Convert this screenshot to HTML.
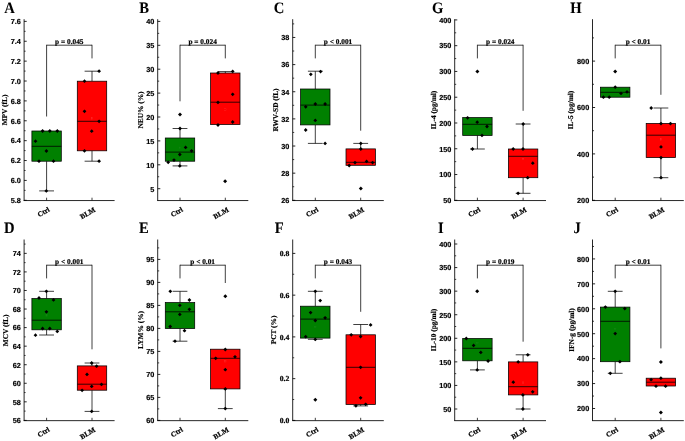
<!DOCTYPE html>
<html><head><meta charset="utf-8"><title>Figure</title>
<style>
html,body{margin:0;padding:0;background:#fff;}
body{width:685px;height:441px;overflow:hidden;}
svg{display:block;will-change:transform;}
text{fill:#000;stroke:#000;stroke-width:0.22px;text-rendering:geometricPrecision;}
.lt{font-family:"Liberation Serif",serif;font-weight:bold;font-size:15.9px;stroke-width:0.08px;}
.tk{font-family:"Liberation Sans",sans-serif;font-weight:bold;font-size:7.3px;stroke-width:0.18px;}
.tks{font-family:"Liberation Serif",serif;font-weight:bold;font-size:7.7px;}
.yl{font-family:"Liberation Serif",serif;font-weight:bold;font-size:7.4px;stroke-width:0.18px;}
.xl{font-family:"Liberation Serif",serif;font-weight:bold;font-size:7.2px;}
.pv{font-family:"Liberation Serif",serif;font-weight:bold;font-size:7.2px;stroke-width:0.2px;}
</style></head><body>
<svg width="685" height="441" viewBox="0 0 685 441">
<rect x="0" y="0" width="685" height="441" fill="#fff"/>
<line x1="24.10" y1="19.20" x2="24.10" y2="200.75" stroke="#000" stroke-width="0.85"/>
<line x1="23.65" y1="200.55" x2="114.60" y2="200.55" stroke="#000" stroke-width="0.85"/>
<line x1="24.10" y1="200.30" x2="26.70" y2="200.30" stroke="#000" stroke-width="0.85"/>
<text class="tk" text-anchor="end" transform="translate(20.80 203.10)">5.8</text>
<line x1="24.10" y1="180.42" x2="26.70" y2="180.42" stroke="#000" stroke-width="0.85"/>
<text class="tk" text-anchor="end" transform="translate(20.80 183.22)">6.0</text>
<line x1="24.10" y1="160.54" x2="26.70" y2="160.54" stroke="#000" stroke-width="0.85"/>
<text class="tk" text-anchor="end" transform="translate(20.80 163.34)">6.2</text>
<line x1="24.10" y1="140.66" x2="26.70" y2="140.66" stroke="#000" stroke-width="0.85"/>
<text class="tk" text-anchor="end" transform="translate(20.80 143.46)">6.4</text>
<line x1="24.10" y1="120.78" x2="26.70" y2="120.78" stroke="#000" stroke-width="0.85"/>
<text class="tk" text-anchor="end" transform="translate(20.80 123.58)">6.6</text>
<line x1="24.10" y1="100.90" x2="26.70" y2="100.90" stroke="#000" stroke-width="0.85"/>
<text class="tk" text-anchor="end" transform="translate(20.80 103.70)">6.8</text>
<line x1="24.10" y1="81.02" x2="26.70" y2="81.02" stroke="#000" stroke-width="0.85"/>
<text class="tk" text-anchor="end" transform="translate(20.80 83.82)">7.0</text>
<line x1="24.10" y1="61.14" x2="26.70" y2="61.14" stroke="#000" stroke-width="0.85"/>
<text class="tk" text-anchor="end" transform="translate(20.80 63.94)">7.2</text>
<line x1="24.10" y1="41.26" x2="26.70" y2="41.26" stroke="#000" stroke-width="0.85"/>
<text class="tk" text-anchor="end" transform="translate(20.80 44.06)">7.4</text>
<line x1="24.10" y1="21.38" x2="26.70" y2="21.38" stroke="#000" stroke-width="0.85"/>
<text class="tk" text-anchor="end" transform="translate(20.80 24.18)">7.6</text>
<line x1="24.10" y1="190.36" x2="25.60" y2="190.36" stroke="#000" stroke-width="0.75"/>
<line x1="24.10" y1="170.48" x2="25.60" y2="170.48" stroke="#000" stroke-width="0.75"/>
<line x1="24.10" y1="150.60" x2="25.60" y2="150.60" stroke="#000" stroke-width="0.75"/>
<line x1="24.10" y1="130.72" x2="25.60" y2="130.72" stroke="#000" stroke-width="0.75"/>
<line x1="24.10" y1="110.84" x2="25.60" y2="110.84" stroke="#000" stroke-width="0.75"/>
<line x1="24.10" y1="90.96" x2="25.60" y2="90.96" stroke="#000" stroke-width="0.75"/>
<line x1="24.10" y1="71.08" x2="25.60" y2="71.08" stroke="#000" stroke-width="0.75"/>
<line x1="24.10" y1="51.20" x2="25.60" y2="51.20" stroke="#000" stroke-width="0.75"/>
<line x1="24.10" y1="31.32" x2="25.60" y2="31.32" stroke="#000" stroke-width="0.75"/>
<line x1="46.60" y1="200.30" x2="46.60" y2="197.70" stroke="#000" stroke-width="0.75"/>
<line x1="92.00" y1="200.30" x2="92.00" y2="197.70" stroke="#000" stroke-width="0.75"/>
<text class="xl" text-anchor="end" transform="translate(50.20 210.90) rotate(-30)">Ctrl</text>
<text class="xl" text-anchor="end" transform="translate(96.00 211.10) rotate(-30)">BLM</text>
<text class="lt" text-anchor="start" transform="translate(4.20 12.80) scale(0.92 1)">A</text>
<text class="yl" text-anchor="middle" transform="translate(6.70 110.00) rotate(-90) scale(0.995 1)">MPV (fL)</text>
<line x1="46.60" y1="45.20" x2="92.00" y2="45.20" stroke="#000" stroke-width="0.75"/>
<line x1="46.60" y1="44.80" x2="46.60" y2="116.50" stroke="#000" stroke-width="0.75"/>
<line x1="92.00" y1="44.80" x2="92.00" y2="58.40" stroke="#000" stroke-width="0.75"/>
<text class="pv" text-anchor="middle" transform="translate(69.30 43.60) scale(1.02 1)">p = 0.045</text>
<line x1="46.60" y1="161.20" x2="46.60" y2="190.90" stroke="#000" stroke-width="0.75"/>
<line x1="39.20" y1="190.90" x2="54.00" y2="190.90" stroke="#000" stroke-width="0.75"/>
<rect x="31.90" y="131.00" width="29.40" height="30.20" fill="#008000" stroke="#000" stroke-width="0.75"/>
<line x1="31.90" y1="146.30" x2="61.30" y2="146.30" stroke="#000" stroke-width="0.8"/>
<path d="M40.70 131.00L42.60 129.10L44.50 131.00L42.60 132.90Z" fill="#000"/>
<path d="M47.90 131.00L49.80 129.10L51.70 131.00L49.80 132.90Z" fill="#000"/>
<path d="M55.40 131.00L57.30 129.10L59.20 131.00L57.30 132.90Z" fill="#000"/>
<path d="M33.60 141.20L35.50 139.30L37.40 141.20L35.50 143.10Z" fill="#000"/>
<path d="M44.50 151.00L46.40 149.10L48.30 151.00L46.40 152.90Z" fill="#000"/>
<path d="M37.10 161.20L39.00 159.30L40.90 161.20L39.00 163.10Z" fill="#000"/>
<path d="M51.60 161.20L53.50 159.30L55.40 161.20L53.50 163.10Z" fill="#000"/>
<path d="M44.40 190.90L46.30 189.00L48.20 190.90L46.30 192.80Z" fill="#000"/>
<line x1="92.00" y1="71.20" x2="92.00" y2="81.20" stroke="#000" stroke-width="0.75"/>
<line x1="84.60" y1="71.20" x2="99.40" y2="71.20" stroke="#000" stroke-width="0.75"/>
<line x1="92.00" y1="150.80" x2="92.00" y2="161.20" stroke="#000" stroke-width="0.75"/>
<line x1="84.60" y1="161.20" x2="99.40" y2="161.20" stroke="#000" stroke-width="0.75"/>
<rect x="77.30" y="81.20" width="29.40" height="69.60" fill="#ff0000" stroke="#000" stroke-width="0.75"/>
<line x1="77.30" y1="121.30" x2="106.70" y2="121.30" stroke="#000" stroke-width="0.8"/>
<rect x="91.30" y="117.70" width="1.4" height="1.4" fill="none" stroke="#ff2c2c" stroke-width="0.4"/>
<path d="M97.20 71.20L99.10 69.30L101.00 71.20L99.10 73.10Z" fill="#000"/>
<path d="M82.60 81.20L84.50 79.30L86.40 81.20L84.50 83.10Z" fill="#000"/>
<path d="M82.60 111.30L84.50 109.40L86.40 111.30L84.50 113.20Z" fill="#000"/>
<path d="M97.20 121.30L99.10 119.40L101.00 121.30L99.10 123.20Z" fill="#000"/>
<path d="M89.80 131.20L91.70 129.30L93.60 131.20L91.70 133.10Z" fill="#000"/>
<path d="M82.60 150.80L84.50 148.90L86.40 150.80L84.50 152.70Z" fill="#000"/>
<path d="M97.20 161.20L99.10 159.30L101.00 161.20L99.10 163.10Z" fill="#000"/>
<line x1="157.70" y1="19.20" x2="157.70" y2="200.75" stroke="#000" stroke-width="0.85"/>
<line x1="157.25" y1="200.55" x2="248.30" y2="200.55" stroke="#000" stroke-width="0.85"/>
<line x1="157.70" y1="188.70" x2="160.30" y2="188.70" stroke="#000" stroke-width="0.85"/>
<text class="tk" text-anchor="end" transform="translate(154.40 191.50)">5</text>
<line x1="157.70" y1="164.80" x2="160.30" y2="164.80" stroke="#000" stroke-width="0.85"/>
<text class="tk" text-anchor="end" transform="translate(154.40 167.60)">10</text>
<line x1="157.70" y1="140.90" x2="160.30" y2="140.90" stroke="#000" stroke-width="0.85"/>
<text class="tk" text-anchor="end" transform="translate(154.40 143.70)">15</text>
<line x1="157.70" y1="117.00" x2="160.30" y2="117.00" stroke="#000" stroke-width="0.85"/>
<text class="tk" text-anchor="end" transform="translate(154.40 119.80)">20</text>
<line x1="157.70" y1="93.10" x2="160.30" y2="93.10" stroke="#000" stroke-width="0.85"/>
<text class="tk" text-anchor="end" transform="translate(154.40 95.90)">25</text>
<line x1="157.70" y1="69.20" x2="160.30" y2="69.20" stroke="#000" stroke-width="0.85"/>
<text class="tk" text-anchor="end" transform="translate(154.40 72.00)">30</text>
<line x1="157.70" y1="45.30" x2="160.30" y2="45.30" stroke="#000" stroke-width="0.85"/>
<text class="tk" text-anchor="end" transform="translate(154.40 48.10)">35</text>
<line x1="157.70" y1="21.40" x2="160.30" y2="21.40" stroke="#000" stroke-width="0.85"/>
<text class="tk" text-anchor="end" transform="translate(154.40 24.20)">40</text>
<line x1="157.70" y1="176.75" x2="159.20" y2="176.75" stroke="#000" stroke-width="0.75"/>
<line x1="157.70" y1="152.85" x2="159.20" y2="152.85" stroke="#000" stroke-width="0.75"/>
<line x1="157.70" y1="128.95" x2="159.20" y2="128.95" stroke="#000" stroke-width="0.75"/>
<line x1="157.70" y1="105.05" x2="159.20" y2="105.05" stroke="#000" stroke-width="0.75"/>
<line x1="157.70" y1="81.15" x2="159.20" y2="81.15" stroke="#000" stroke-width="0.75"/>
<line x1="157.70" y1="57.25" x2="159.20" y2="57.25" stroke="#000" stroke-width="0.75"/>
<line x1="157.70" y1="33.35" x2="159.20" y2="33.35" stroke="#000" stroke-width="0.75"/>
<line x1="180.00" y1="200.30" x2="180.00" y2="197.70" stroke="#000" stroke-width="0.75"/>
<line x1="225.30" y1="200.30" x2="225.30" y2="197.70" stroke="#000" stroke-width="0.75"/>
<text class="xl" text-anchor="end" transform="translate(183.60 210.90) rotate(-30)">Ctrl</text>
<text class="xl" text-anchor="end" transform="translate(229.30 211.10) rotate(-30)">BLM</text>
<text class="lt" text-anchor="start" transform="translate(139.30 12.80) scale(0.92 1)">B</text>
<text class="yl" text-anchor="middle" transform="translate(142.50 110.00) rotate(-90) scale(0.995 1)">NEU% (%)</text>
<line x1="180.00" y1="45.20" x2="225.30" y2="45.20" stroke="#000" stroke-width="0.75"/>
<line x1="180.00" y1="44.80" x2="180.00" y2="101.30" stroke="#000" stroke-width="0.75"/>
<line x1="225.30" y1="44.80" x2="225.30" y2="58.40" stroke="#000" stroke-width="0.75"/>
<text class="pv" text-anchor="middle" transform="translate(202.65 43.60) scale(1.02 1)">p = 0.024</text>
<line x1="180.00" y1="128.50" x2="180.00" y2="138.00" stroke="#000" stroke-width="0.75"/>
<line x1="172.60" y1="128.50" x2="187.40" y2="128.50" stroke="#000" stroke-width="0.75"/>
<line x1="180.00" y1="161.20" x2="180.00" y2="165.90" stroke="#000" stroke-width="0.75"/>
<line x1="172.60" y1="165.90" x2="187.40" y2="165.90" stroke="#000" stroke-width="0.75"/>
<rect x="165.30" y="138.00" width="29.40" height="23.20" fill="#008000" stroke="#000" stroke-width="0.75"/>
<line x1="165.30" y1="152.10" x2="194.70" y2="152.10" stroke="#000" stroke-width="0.8"/>
<rect x="179.30" y="147.10" width="1.4" height="1.4" fill="none" stroke="#178617" stroke-width="0.4"/>
<path d="M166.30 162.30L168.20 160.40L170.10 162.30L168.20 164.20Z" fill="#000"/>
<path d="M172.10 160.10L174.00 158.20L175.90 160.10L174.00 162.00Z" fill="#000"/>
<path d="M177.90 154.50L179.80 152.60L181.70 154.50L179.80 156.40Z" fill="#000"/>
<path d="M183.70 147.40L185.60 145.50L187.50 147.40L185.60 149.30Z" fill="#000"/>
<path d="M189.70 150.80L191.60 148.90L193.50 150.80L191.60 152.70Z" fill="#000"/>
<path d="M177.90 165.90L179.80 164.00L181.70 165.90L179.80 167.80Z" fill="#000"/>
<path d="M178.10 128.50L180.00 126.60L181.90 128.50L180.00 130.40Z" fill="#000"/>
<path d="M178.00 114.40L180.00 112.40L182.00 114.40L180.00 116.40Z" fill="#000"/>
<line x1="225.30" y1="71.60" x2="225.30" y2="73.00" stroke="#000" stroke-width="0.75"/>
<line x1="217.90" y1="71.60" x2="232.70" y2="71.60" stroke="#000" stroke-width="0.75"/>
<rect x="210.60" y="73.00" width="29.40" height="51.50" fill="#ff0000" stroke="#000" stroke-width="0.75"/>
<line x1="210.60" y1="102.20" x2="240.00" y2="102.20" stroke="#000" stroke-width="0.8"/>
<rect x="224.60" y="108.80" width="1.4" height="1.4" fill="none" stroke="#ff2c2c" stroke-width="0.4"/>
<path d="M216.10 73.00L218.00 71.10L219.90 73.00L218.00 74.90Z" fill="#000"/>
<path d="M230.80 71.40L232.70 69.50L234.60 71.40L232.70 73.30Z" fill="#000"/>
<path d="M230.80 94.30L232.70 92.40L234.60 94.30L232.70 96.20Z" fill="#000"/>
<path d="M216.10 102.40L218.00 100.50L219.90 102.40L218.00 104.30Z" fill="#000"/>
<path d="M230.80 122.00L232.70 120.10L234.60 122.00L232.70 123.90Z" fill="#000"/>
<path d="M216.10 125.00L218.00 123.10L219.90 125.00L218.00 126.90Z" fill="#000"/>
<path d="M223.10 181.30L225.10 179.30L227.10 181.30L225.10 183.30Z" fill="#000"/>
<line x1="292.70" y1="19.20" x2="292.70" y2="200.75" stroke="#000" stroke-width="0.85"/>
<line x1="292.25" y1="200.55" x2="383.80" y2="200.55" stroke="#000" stroke-width="0.85"/>
<line x1="292.70" y1="200.30" x2="295.30" y2="200.30" stroke="#000" stroke-width="0.85"/>
<text class="tk" text-anchor="end" transform="translate(289.40 203.10)">26</text>
<line x1="292.70" y1="173.16" x2="295.30" y2="173.16" stroke="#000" stroke-width="0.85"/>
<text class="tk" text-anchor="end" transform="translate(289.40 175.96)">28</text>
<line x1="292.70" y1="146.02" x2="295.30" y2="146.02" stroke="#000" stroke-width="0.85"/>
<text class="tk" text-anchor="end" transform="translate(289.40 148.82)">30</text>
<line x1="292.70" y1="118.88" x2="295.30" y2="118.88" stroke="#000" stroke-width="0.85"/>
<text class="tk" text-anchor="end" transform="translate(289.40 121.68)">32</text>
<line x1="292.70" y1="91.74" x2="295.30" y2="91.74" stroke="#000" stroke-width="0.85"/>
<text class="tk" text-anchor="end" transform="translate(289.40 94.54)">34</text>
<line x1="292.70" y1="64.60" x2="295.30" y2="64.60" stroke="#000" stroke-width="0.85"/>
<text class="tk" text-anchor="end" transform="translate(289.40 67.40)">36</text>
<line x1="292.70" y1="37.46" x2="295.30" y2="37.46" stroke="#000" stroke-width="0.85"/>
<text class="tk" text-anchor="end" transform="translate(289.40 40.26)">38</text>
<line x1="292.70" y1="186.73" x2="294.20" y2="186.73" stroke="#000" stroke-width="0.75"/>
<line x1="292.70" y1="159.59" x2="294.20" y2="159.59" stroke="#000" stroke-width="0.75"/>
<line x1="292.70" y1="132.45" x2="294.20" y2="132.45" stroke="#000" stroke-width="0.75"/>
<line x1="292.70" y1="105.31" x2="294.20" y2="105.31" stroke="#000" stroke-width="0.75"/>
<line x1="292.70" y1="78.17" x2="294.20" y2="78.17" stroke="#000" stroke-width="0.75"/>
<line x1="292.70" y1="51.03" x2="294.20" y2="51.03" stroke="#000" stroke-width="0.75"/>
<line x1="292.70" y1="23.89" x2="294.20" y2="23.89" stroke="#000" stroke-width="0.75"/>
<line x1="315.30" y1="200.30" x2="315.30" y2="197.70" stroke="#000" stroke-width="0.75"/>
<line x1="360.70" y1="200.30" x2="360.70" y2="197.70" stroke="#000" stroke-width="0.75"/>
<text class="xl" text-anchor="end" transform="translate(318.90 210.90) rotate(-30)">Ctrl</text>
<text class="xl" text-anchor="end" transform="translate(364.70 211.10) rotate(-30)">BLM</text>
<text class="lt" text-anchor="start" transform="translate(273.80 12.80) scale(0.92 1)">C</text>
<text class="yl" text-anchor="middle" transform="translate(278.00 110.00) rotate(-90) scale(0.995 1)">RWV-SD (fL)</text>
<line x1="315.30" y1="45.20" x2="360.70" y2="45.20" stroke="#000" stroke-width="0.75"/>
<line x1="315.30" y1="44.80" x2="315.30" y2="58.40" stroke="#000" stroke-width="0.75"/>
<line x1="360.70" y1="44.80" x2="360.70" y2="130.70" stroke="#000" stroke-width="0.75"/>
<text class="pv" text-anchor="middle" transform="translate(338.00 43.60) scale(1.02 1)">p &lt; 0.001</text>
<line x1="315.30" y1="71.20" x2="315.30" y2="89.00" stroke="#000" stroke-width="0.75"/>
<line x1="307.90" y1="71.20" x2="322.70" y2="71.20" stroke="#000" stroke-width="0.75"/>
<line x1="315.30" y1="124.90" x2="315.30" y2="143.40" stroke="#000" stroke-width="0.75"/>
<line x1="307.90" y1="143.40" x2="322.70" y2="143.40" stroke="#000" stroke-width="0.75"/>
<rect x="300.60" y="89.00" width="29.40" height="35.90" fill="#008000" stroke="#000" stroke-width="0.75"/>
<line x1="300.60" y1="105.10" x2="330.00" y2="105.10" stroke="#000" stroke-width="0.8"/>
<path d="M308.90 74.30L310.80 72.40L312.70 74.30L310.80 76.20Z" fill="#000"/>
<path d="M318.70 71.60L320.60 69.70L322.50 71.60L320.60 73.50Z" fill="#000"/>
<path d="M303.80 106.80L305.70 104.90L307.60 106.80L305.70 108.70Z" fill="#000"/>
<path d="M313.40 104.00L315.30 102.10L317.20 104.00L315.30 105.90Z" fill="#000"/>
<path d="M323.20 104.00L325.10 102.10L327.00 104.00L325.10 105.90Z" fill="#000"/>
<path d="M313.40 120.40L315.30 118.50L317.20 120.40L315.30 122.30Z" fill="#000"/>
<path d="M303.80 130.00L305.70 128.10L307.60 130.00L305.70 131.90Z" fill="#000"/>
<path d="M323.20 143.40L325.10 141.50L327.00 143.40L325.10 145.30Z" fill="#000"/>
<line x1="360.70" y1="143.40" x2="360.70" y2="148.90" stroke="#000" stroke-width="0.75"/>
<line x1="353.30" y1="143.40" x2="368.10" y2="143.40" stroke="#000" stroke-width="0.75"/>
<rect x="346.00" y="148.90" width="29.40" height="16.40" fill="#ff0000" stroke="#000" stroke-width="0.75"/>
<line x1="346.00" y1="162.30" x2="375.40" y2="162.30" stroke="#000" stroke-width="0.8"/>
<path d="M358.90 143.40L360.80 141.50L362.70 143.40L360.80 145.30Z" fill="#000"/>
<path d="M358.90 149.00L360.80 147.10L362.70 149.00L360.80 150.90Z" fill="#000"/>
<path d="M347.30 165.50L349.20 163.60L351.10 165.50L349.20 167.40Z" fill="#000"/>
<path d="M353.10 162.60L355.00 160.70L356.90 162.60L355.00 164.50Z" fill="#000"/>
<path d="M364.70 161.40L366.60 159.50L368.50 161.40L366.60 163.30Z" fill="#000"/>
<path d="M370.70 162.60L372.60 160.70L374.50 162.60L372.60 164.50Z" fill="#000"/>
<path d="M358.80 188.40L360.80 186.40L362.80 188.40L360.80 190.40Z" fill="#000"/>
<line x1="454.70" y1="19.20" x2="454.70" y2="200.75" stroke="#000" stroke-width="0.85"/>
<line x1="454.25" y1="200.55" x2="546.00" y2="200.55" stroke="#000" stroke-width="0.85"/>
<line x1="454.70" y1="200.30" x2="457.30" y2="200.30" stroke="#000" stroke-width="0.85"/>
<text class="tk" text-anchor="end" transform="translate(451.40 203.10)">50</text>
<line x1="454.70" y1="174.53" x2="457.30" y2="174.53" stroke="#000" stroke-width="0.85"/>
<text class="tk" text-anchor="end" transform="translate(451.40 177.33)">100</text>
<line x1="454.70" y1="148.76" x2="457.30" y2="148.76" stroke="#000" stroke-width="0.85"/>
<text class="tk" text-anchor="end" transform="translate(451.40 151.56)">150</text>
<line x1="454.70" y1="122.99" x2="457.30" y2="122.99" stroke="#000" stroke-width="0.85"/>
<text class="tk" text-anchor="end" transform="translate(451.40 125.79)">200</text>
<line x1="454.70" y1="97.22" x2="457.30" y2="97.22" stroke="#000" stroke-width="0.85"/>
<text class="tk" text-anchor="end" transform="translate(451.40 100.02)">250</text>
<line x1="454.70" y1="71.45" x2="457.30" y2="71.45" stroke="#000" stroke-width="0.85"/>
<text class="tk" text-anchor="end" transform="translate(451.40 74.25)">300</text>
<line x1="454.70" y1="45.68" x2="457.30" y2="45.68" stroke="#000" stroke-width="0.85"/>
<text class="tk" text-anchor="end" transform="translate(451.40 48.48)">350</text>
<line x1="454.70" y1="19.91" x2="457.30" y2="19.91" stroke="#000" stroke-width="0.85"/>
<text class="tk" text-anchor="end" transform="translate(451.40 22.71)">400</text>
<line x1="454.70" y1="187.42" x2="456.20" y2="187.42" stroke="#000" stroke-width="0.75"/>
<line x1="454.70" y1="161.65" x2="456.20" y2="161.65" stroke="#000" stroke-width="0.75"/>
<line x1="454.70" y1="135.88" x2="456.20" y2="135.88" stroke="#000" stroke-width="0.75"/>
<line x1="454.70" y1="110.11" x2="456.20" y2="110.11" stroke="#000" stroke-width="0.75"/>
<line x1="454.70" y1="84.34" x2="456.20" y2="84.34" stroke="#000" stroke-width="0.75"/>
<line x1="454.70" y1="58.57" x2="456.20" y2="58.57" stroke="#000" stroke-width="0.75"/>
<line x1="454.70" y1="32.80" x2="456.20" y2="32.80" stroke="#000" stroke-width="0.75"/>
<line x1="477.40" y1="200.30" x2="477.40" y2="197.70" stroke="#000" stroke-width="0.75"/>
<line x1="523.10" y1="200.30" x2="523.10" y2="197.70" stroke="#000" stroke-width="0.75"/>
<text class="xl" text-anchor="end" transform="translate(481.00 210.90) rotate(-30)">Ctrl</text>
<text class="xl" text-anchor="end" transform="translate(527.10 211.10) rotate(-30)">BLM</text>
<text class="lt" text-anchor="start" transform="translate(432.00 12.80) scale(0.92 1)">G</text>
<text class="yl" text-anchor="middle" transform="translate(435.70 110.00) rotate(-90) scale(0.995 1)">IL-4 (pg/ml)</text>
<line x1="477.40" y1="45.20" x2="523.10" y2="45.20" stroke="#000" stroke-width="0.75"/>
<line x1="477.40" y1="44.80" x2="477.40" y2="58.40" stroke="#000" stroke-width="0.75"/>
<line x1="523.10" y1="44.80" x2="523.10" y2="110.80" stroke="#000" stroke-width="0.75"/>
<text class="pv" text-anchor="middle" transform="translate(500.25 43.60) scale(1.02 1)">p = 0.024</text>
<line x1="477.40" y1="135.40" x2="477.40" y2="149.00" stroke="#000" stroke-width="0.75"/>
<line x1="470.00" y1="149.00" x2="484.80" y2="149.00" stroke="#000" stroke-width="0.75"/>
<rect x="462.70" y="117.60" width="29.40" height="17.80" fill="#008000" stroke="#000" stroke-width="0.75"/>
<line x1="462.70" y1="124.30" x2="492.10" y2="124.30" stroke="#000" stroke-width="0.8"/>
<path d="M465.70 117.80L467.60 115.90L469.50 117.80L467.60 119.70Z" fill="#000"/>
<path d="M475.30 122.20L477.20 120.30L479.10 122.20L477.20 124.10Z" fill="#000"/>
<path d="M485.10 126.50L487.00 124.60L488.90 126.50L487.00 128.40Z" fill="#000"/>
<path d="M480.10 135.40L482.00 133.50L483.90 135.40L482.00 137.30Z" fill="#000"/>
<path d="M470.60 149.00L472.50 147.10L474.40 149.00L472.50 150.90Z" fill="#000"/>
<path d="M475.40 71.50L477.40 69.50L479.40 71.50L477.40 73.50Z" fill="#000"/>
<line x1="523.10" y1="124.00" x2="523.10" y2="149.00" stroke="#000" stroke-width="0.75"/>
<line x1="515.70" y1="124.00" x2="530.50" y2="124.00" stroke="#000" stroke-width="0.75"/>
<line x1="523.10" y1="177.70" x2="523.10" y2="193.30" stroke="#000" stroke-width="0.75"/>
<line x1="515.70" y1="193.30" x2="530.50" y2="193.30" stroke="#000" stroke-width="0.75"/>
<rect x="508.40" y="149.00" width="29.40" height="28.70" fill="#ff0000" stroke="#000" stroke-width="0.75"/>
<line x1="508.40" y1="156.30" x2="537.80" y2="156.30" stroke="#000" stroke-width="0.8"/>
<rect x="522.40" y="158.30" width="1.4" height="1.4" fill="none" stroke="#ff2c2c" stroke-width="0.4"/>
<path d="M521.30 124.00L523.20 122.10L525.10 124.00L523.20 125.90Z" fill="#000"/>
<path d="M511.30 149.00L513.20 147.10L515.10 149.00L513.20 150.90Z" fill="#000"/>
<path d="M521.10 149.00L523.00 147.10L524.90 149.00L523.00 150.90Z" fill="#000"/>
<path d="M530.90 163.20L532.80 161.30L534.70 163.20L532.80 165.10Z" fill="#000"/>
<path d="M525.80 177.70L527.70 175.80L529.60 177.70L527.70 179.60Z" fill="#000"/>
<path d="M516.20 193.30L518.10 191.40L520.00 193.30L518.10 195.20Z" fill="#000"/>
<line x1="592.50" y1="19.20" x2="592.50" y2="200.75" stroke="#000" stroke-width="0.85"/>
<line x1="592.05" y1="200.55" x2="683.80" y2="200.55" stroke="#000" stroke-width="0.85"/>
<line x1="592.50" y1="200.30" x2="595.10" y2="200.30" stroke="#000" stroke-width="0.85"/>
<text class="tk" text-anchor="end" transform="translate(589.20 203.10)">200</text>
<line x1="592.50" y1="153.90" x2="595.10" y2="153.90" stroke="#000" stroke-width="0.85"/>
<text class="tk" text-anchor="end" transform="translate(589.20 156.70)">400</text>
<line x1="592.50" y1="107.50" x2="595.10" y2="107.50" stroke="#000" stroke-width="0.85"/>
<text class="tk" text-anchor="end" transform="translate(589.20 110.30)">600</text>
<line x1="592.50" y1="61.10" x2="595.10" y2="61.10" stroke="#000" stroke-width="0.85"/>
<text class="tk" text-anchor="end" transform="translate(589.20 63.90)">800</text>
<line x1="592.50" y1="177.10" x2="594.00" y2="177.10" stroke="#000" stroke-width="0.75"/>
<line x1="592.50" y1="130.70" x2="594.00" y2="130.70" stroke="#000" stroke-width="0.75"/>
<line x1="592.50" y1="84.30" x2="594.00" y2="84.30" stroke="#000" stroke-width="0.75"/>
<line x1="592.50" y1="37.90" x2="594.00" y2="37.90" stroke="#000" stroke-width="0.75"/>
<line x1="615.20" y1="200.30" x2="615.20" y2="197.70" stroke="#000" stroke-width="0.75"/>
<line x1="660.90" y1="200.30" x2="660.90" y2="197.70" stroke="#000" stroke-width="0.75"/>
<text class="xl" text-anchor="end" transform="translate(618.80 210.90) rotate(-30)">Ctrl</text>
<text class="xl" text-anchor="end" transform="translate(664.90 211.10) rotate(-30)">BLM</text>
<text class="lt" text-anchor="start" transform="translate(570.20 12.80) scale(0.92 1)">H</text>
<text class="yl" text-anchor="middle" transform="translate(573.40 110.00) rotate(-90) scale(0.995 1)">IL-5 (pg/ml)</text>
<line x1="615.20" y1="45.20" x2="660.90" y2="45.20" stroke="#000" stroke-width="0.75"/>
<line x1="615.20" y1="44.80" x2="615.20" y2="58.40" stroke="#000" stroke-width="0.75"/>
<line x1="660.90" y1="44.80" x2="660.90" y2="94.80" stroke="#000" stroke-width="0.75"/>
<text class="pv" text-anchor="middle" transform="translate(638.05 43.60) scale(1.02 1)">p &lt; 0.01</text>
<rect x="600.50" y="87.20" width="29.40" height="10.00" fill="#008000" stroke="#000" stroke-width="0.75"/>
<line x1="600.50" y1="92.30" x2="629.90" y2="92.30" stroke="#000" stroke-width="0.8"/>
<path d="M613.30 87.20L615.20 85.30L617.10 87.20L615.20 89.10Z" fill="#000"/>
<path d="M601.50 97.20L603.40 95.30L605.30 97.20L603.40 99.10Z" fill="#000"/>
<path d="M607.30 97.20L609.20 95.30L611.10 97.20L609.20 99.10Z" fill="#000"/>
<path d="M619.10 93.40L621.00 91.50L622.90 93.40L621.00 95.30Z" fill="#000"/>
<path d="M625.10 91.90L627.00 90.00L628.90 91.90L627.00 93.80Z" fill="#000"/>
<path d="M613.20 71.40L615.20 69.40L617.20 71.40L615.20 73.40Z" fill="#000"/>
<line x1="660.90" y1="108.00" x2="660.90" y2="123.40" stroke="#000" stroke-width="0.75"/>
<line x1="653.50" y1="108.00" x2="668.30" y2="108.00" stroke="#000" stroke-width="0.75"/>
<line x1="660.90" y1="157.60" x2="660.90" y2="177.70" stroke="#000" stroke-width="0.75"/>
<line x1="653.50" y1="177.70" x2="668.30" y2="177.70" stroke="#000" stroke-width="0.75"/>
<rect x="646.20" y="123.40" width="29.40" height="34.20" fill="#ff0000" stroke="#000" stroke-width="0.75"/>
<line x1="646.20" y1="135.20" x2="675.60" y2="135.20" stroke="#000" stroke-width="0.8"/>
<rect x="660.20" y="138.70" width="1.4" height="1.4" fill="none" stroke="#ff2c2c" stroke-width="0.4"/>
<path d="M649.30 108.00L651.20 106.10L653.10 108.00L651.20 109.90Z" fill="#000"/>
<path d="M659.10 123.60L661.00 121.70L662.90 123.60L661.00 125.50Z" fill="#000"/>
<path d="M668.60 123.60L670.50 121.70L672.40 123.60L670.50 125.50Z" fill="#000"/>
<path d="M659.10 146.90L661.00 145.00L662.90 146.90L661.00 148.80Z" fill="#000"/>
<path d="M659.10 157.60L661.00 155.70L662.90 157.60L661.00 159.50Z" fill="#000"/>
<path d="M659.10 177.70L661.00 175.80L662.90 177.70L661.00 179.60Z" fill="#000"/>
<line x1="24.10" y1="239.50" x2="24.10" y2="420.85" stroke="#000" stroke-width="0.85"/>
<line x1="23.65" y1="420.65" x2="114.60" y2="420.65" stroke="#000" stroke-width="0.85"/>
<line x1="24.10" y1="420.40" x2="26.70" y2="420.40" stroke="#000" stroke-width="0.85"/>
<text class="tk" text-anchor="end" transform="translate(20.80 423.20)">56</text>
<line x1="24.10" y1="401.84" x2="26.70" y2="401.84" stroke="#000" stroke-width="0.85"/>
<text class="tk" text-anchor="end" transform="translate(20.80 404.64)">58</text>
<line x1="24.10" y1="383.28" x2="26.70" y2="383.28" stroke="#000" stroke-width="0.85"/>
<text class="tk" text-anchor="end" transform="translate(20.80 386.08)">60</text>
<line x1="24.10" y1="364.72" x2="26.70" y2="364.72" stroke="#000" stroke-width="0.85"/>
<text class="tk" text-anchor="end" transform="translate(20.80 367.52)">62</text>
<line x1="24.10" y1="346.16" x2="26.70" y2="346.16" stroke="#000" stroke-width="0.85"/>
<text class="tk" text-anchor="end" transform="translate(20.80 348.96)">64</text>
<line x1="24.10" y1="327.60" x2="26.70" y2="327.60" stroke="#000" stroke-width="0.85"/>
<text class="tk" text-anchor="end" transform="translate(20.80 330.40)">66</text>
<line x1="24.10" y1="309.04" x2="26.70" y2="309.04" stroke="#000" stroke-width="0.85"/>
<text class="tk" text-anchor="end" transform="translate(20.80 311.84)">68</text>
<line x1="24.10" y1="290.48" x2="26.70" y2="290.48" stroke="#000" stroke-width="0.85"/>
<text class="tk" text-anchor="end" transform="translate(20.80 293.28)">70</text>
<line x1="24.10" y1="271.92" x2="26.70" y2="271.92" stroke="#000" stroke-width="0.85"/>
<text class="tk" text-anchor="end" transform="translate(20.80 274.72)">72</text>
<line x1="24.10" y1="253.36" x2="26.70" y2="253.36" stroke="#000" stroke-width="0.85"/>
<text class="tk" text-anchor="end" transform="translate(20.80 256.16)">74</text>
<line x1="24.10" y1="411.12" x2="25.60" y2="411.12" stroke="#000" stroke-width="0.75"/>
<line x1="24.10" y1="392.56" x2="25.60" y2="392.56" stroke="#000" stroke-width="0.75"/>
<line x1="24.10" y1="374.00" x2="25.60" y2="374.00" stroke="#000" stroke-width="0.75"/>
<line x1="24.10" y1="355.44" x2="25.60" y2="355.44" stroke="#000" stroke-width="0.75"/>
<line x1="24.10" y1="336.88" x2="25.60" y2="336.88" stroke="#000" stroke-width="0.75"/>
<line x1="24.10" y1="318.32" x2="25.60" y2="318.32" stroke="#000" stroke-width="0.75"/>
<line x1="24.10" y1="299.76" x2="25.60" y2="299.76" stroke="#000" stroke-width="0.75"/>
<line x1="24.10" y1="281.20" x2="25.60" y2="281.20" stroke="#000" stroke-width="0.75"/>
<line x1="24.10" y1="262.64" x2="25.60" y2="262.64" stroke="#000" stroke-width="0.75"/>
<line x1="24.10" y1="244.08" x2="25.60" y2="244.08" stroke="#000" stroke-width="0.75"/>
<line x1="46.60" y1="420.40" x2="46.60" y2="417.80" stroke="#000" stroke-width="0.75"/>
<line x1="92.00" y1="420.40" x2="92.00" y2="417.80" stroke="#000" stroke-width="0.75"/>
<text class="xl" text-anchor="end" transform="translate(50.20 431.00) rotate(-30)">Ctrl</text>
<text class="xl" text-anchor="end" transform="translate(96.00 431.20) rotate(-30)">BLM</text>
<text class="lt" text-anchor="start" transform="translate(4.00 233.00) scale(0.92 1)">D</text>
<text class="yl" text-anchor="middle" transform="translate(8.40 330.40) rotate(-90) scale(0.995 1)">MCV (fL)</text>
<line x1="46.60" y1="265.20" x2="92.00" y2="265.20" stroke="#000" stroke-width="0.75"/>
<line x1="46.60" y1="264.80" x2="46.60" y2="278.40" stroke="#000" stroke-width="0.75"/>
<line x1="92.00" y1="264.80" x2="92.00" y2="349.30" stroke="#000" stroke-width="0.75"/>
<text class="pv" text-anchor="middle" transform="translate(69.30 263.60) scale(1.02 1)">p &lt; 0.001</text>
<line x1="46.60" y1="291.30" x2="46.60" y2="298.60" stroke="#000" stroke-width="0.75"/>
<line x1="39.20" y1="291.30" x2="54.00" y2="291.30" stroke="#000" stroke-width="0.75"/>
<line x1="46.60" y1="329.80" x2="46.60" y2="335.00" stroke="#000" stroke-width="0.75"/>
<line x1="39.20" y1="335.00" x2="54.00" y2="335.00" stroke="#000" stroke-width="0.75"/>
<rect x="31.90" y="298.60" width="29.40" height="31.20" fill="#008000" stroke="#000" stroke-width="0.75"/>
<line x1="31.90" y1="320.20" x2="61.30" y2="320.20" stroke="#000" stroke-width="0.8"/>
<rect x="45.90" y="314.80" width="1.4" height="1.4" fill="none" stroke="#178617" stroke-width="0.4"/>
<path d="M44.50 291.30L46.40 289.40L48.30 291.30L46.40 293.20Z" fill="#000"/>
<path d="M37.10 298.00L39.00 296.10L40.90 298.00L39.00 299.90Z" fill="#000"/>
<path d="M51.60 299.90L53.50 298.00L55.40 299.90L53.50 301.80Z" fill="#000"/>
<path d="M44.50 311.80L46.40 309.90L48.30 311.80L46.40 313.70Z" fill="#000"/>
<path d="M40.70 328.50L42.60 326.60L44.50 328.50L42.60 330.40Z" fill="#000"/>
<path d="M47.90 328.50L49.80 326.60L51.70 328.50L49.80 330.40Z" fill="#000"/>
<path d="M55.40 331.40L57.30 329.50L59.20 331.40L57.30 333.30Z" fill="#000"/>
<path d="M33.60 335.20L35.50 333.30L37.40 335.20L35.50 337.10Z" fill="#000"/>
<line x1="92.00" y1="363.00" x2="92.00" y2="365.90" stroke="#000" stroke-width="0.75"/>
<line x1="84.60" y1="363.00" x2="99.40" y2="363.00" stroke="#000" stroke-width="0.75"/>
<line x1="92.00" y1="390.20" x2="92.00" y2="411.40" stroke="#000" stroke-width="0.75"/>
<line x1="84.60" y1="411.40" x2="99.40" y2="411.40" stroke="#000" stroke-width="0.75"/>
<rect x="77.30" y="365.90" width="29.40" height="24.30" fill="#ff0000" stroke="#000" stroke-width="0.75"/>
<line x1="77.30" y1="384.20" x2="106.70" y2="384.20" stroke="#000" stroke-width="0.8"/>
<path d="M89.80 363.00L91.70 361.10L93.60 363.00L91.70 364.90Z" fill="#000"/>
<path d="M94.70 366.20L96.60 364.30L98.50 366.20L96.60 368.10Z" fill="#000"/>
<path d="M85.10 374.40L87.00 372.50L88.90 374.40L87.00 376.30Z" fill="#000"/>
<path d="M99.60 384.40L101.50 382.50L103.40 384.40L101.50 386.30Z" fill="#000"/>
<path d="M89.80 386.40L91.70 384.50L93.60 386.40L91.70 388.30Z" fill="#000"/>
<path d="M80.20 390.30L82.10 388.40L84.00 390.30L82.10 392.20Z" fill="#000"/>
<path d="M89.80 411.40L91.70 409.50L93.60 411.40L91.70 413.30Z" fill="#000"/>
<line x1="157.70" y1="239.50" x2="157.70" y2="420.85" stroke="#000" stroke-width="0.85"/>
<line x1="157.25" y1="420.65" x2="248.30" y2="420.65" stroke="#000" stroke-width="0.85"/>
<line x1="157.70" y1="420.40" x2="160.30" y2="420.40" stroke="#000" stroke-width="0.85"/>
<text class="tk" text-anchor="end" transform="translate(154.40 423.20)">60</text>
<line x1="157.70" y1="397.40" x2="160.30" y2="397.40" stroke="#000" stroke-width="0.85"/>
<text class="tk" text-anchor="end" transform="translate(154.40 400.20)">65</text>
<line x1="157.70" y1="374.40" x2="160.30" y2="374.40" stroke="#000" stroke-width="0.85"/>
<text class="tk" text-anchor="end" transform="translate(154.40 377.20)">70</text>
<line x1="157.70" y1="351.40" x2="160.30" y2="351.40" stroke="#000" stroke-width="0.85"/>
<text class="tk" text-anchor="end" transform="translate(154.40 354.20)">75</text>
<line x1="157.70" y1="328.40" x2="160.30" y2="328.40" stroke="#000" stroke-width="0.85"/>
<text class="tk" text-anchor="end" transform="translate(154.40 331.20)">80</text>
<line x1="157.70" y1="305.40" x2="160.30" y2="305.40" stroke="#000" stroke-width="0.85"/>
<text class="tk" text-anchor="end" transform="translate(154.40 308.20)">85</text>
<line x1="157.70" y1="282.40" x2="160.30" y2="282.40" stroke="#000" stroke-width="0.85"/>
<text class="tk" text-anchor="end" transform="translate(154.40 285.20)">90</text>
<line x1="157.70" y1="259.40" x2="160.30" y2="259.40" stroke="#000" stroke-width="0.85"/>
<text class="tk" text-anchor="end" transform="translate(154.40 262.20)">95</text>
<line x1="157.70" y1="408.90" x2="159.20" y2="408.90" stroke="#000" stroke-width="0.75"/>
<line x1="157.70" y1="385.90" x2="159.20" y2="385.90" stroke="#000" stroke-width="0.75"/>
<line x1="157.70" y1="362.90" x2="159.20" y2="362.90" stroke="#000" stroke-width="0.75"/>
<line x1="157.70" y1="339.90" x2="159.20" y2="339.90" stroke="#000" stroke-width="0.75"/>
<line x1="157.70" y1="316.90" x2="159.20" y2="316.90" stroke="#000" stroke-width="0.75"/>
<line x1="157.70" y1="293.90" x2="159.20" y2="293.90" stroke="#000" stroke-width="0.75"/>
<line x1="157.70" y1="270.90" x2="159.20" y2="270.90" stroke="#000" stroke-width="0.75"/>
<line x1="157.70" y1="247.90" x2="159.20" y2="247.90" stroke="#000" stroke-width="0.75"/>
<line x1="180.00" y1="420.40" x2="180.00" y2="417.80" stroke="#000" stroke-width="0.75"/>
<line x1="225.30" y1="420.40" x2="225.30" y2="417.80" stroke="#000" stroke-width="0.75"/>
<text class="xl" text-anchor="end" transform="translate(183.60 431.00) rotate(-30)">Ctrl</text>
<text class="xl" text-anchor="end" transform="translate(229.30 431.20) rotate(-30)">BLM</text>
<text class="lt" text-anchor="start" transform="translate(139.00 233.00) scale(0.92 1)">E</text>
<text class="yl" text-anchor="middle" transform="translate(142.70 330.00) rotate(-90) scale(0.995 1)">LYM% (%)</text>
<line x1="180.00" y1="265.20" x2="225.30" y2="265.20" stroke="#000" stroke-width="0.75"/>
<line x1="180.00" y1="264.80" x2="180.00" y2="278.40" stroke="#000" stroke-width="0.75"/>
<line x1="225.30" y1="264.80" x2="225.30" y2="283.00" stroke="#000" stroke-width="0.75"/>
<text class="pv" text-anchor="middle" transform="translate(202.65 263.60) scale(1.02 1)">p &lt; 0.01</text>
<line x1="180.00" y1="291.30" x2="180.00" y2="302.60" stroke="#000" stroke-width="0.75"/>
<line x1="172.60" y1="291.30" x2="187.40" y2="291.30" stroke="#000" stroke-width="0.75"/>
<line x1="180.00" y1="328.50" x2="180.00" y2="341.20" stroke="#000" stroke-width="0.75"/>
<line x1="172.60" y1="341.20" x2="187.40" y2="341.20" stroke="#000" stroke-width="0.75"/>
<rect x="165.30" y="302.60" width="29.40" height="25.90" fill="#008000" stroke="#000" stroke-width="0.75"/>
<line x1="165.30" y1="311.80" x2="194.70" y2="311.80" stroke="#000" stroke-width="0.8"/>
<path d="M168.40 291.30L170.30 289.40L172.20 291.30L170.30 293.20Z" fill="#000"/>
<path d="M187.50 300.00L189.40 298.10L191.30 300.00L189.40 301.90Z" fill="#000"/>
<path d="M177.90 305.30L179.80 303.40L181.70 305.30L179.80 307.20Z" fill="#000"/>
<path d="M187.50 309.30L189.40 307.40L191.30 309.30L189.40 311.20Z" fill="#000"/>
<path d="M177.90 314.40L179.80 312.50L181.70 314.40L179.80 316.30Z" fill="#000"/>
<path d="M168.30 326.50L170.20 324.60L172.10 326.50L170.20 328.40Z" fill="#000"/>
<path d="M182.60 330.70L184.50 328.80L186.40 330.70L184.50 332.60Z" fill="#000"/>
<path d="M173.10 341.20L175.00 339.30L176.90 341.20L175.00 343.10Z" fill="#000"/>
<line x1="225.30" y1="388.90" x2="225.30" y2="408.60" stroke="#000" stroke-width="0.75"/>
<line x1="217.90" y1="408.60" x2="232.70" y2="408.60" stroke="#000" stroke-width="0.75"/>
<rect x="210.60" y="349.20" width="29.40" height="39.70" fill="#ff0000" stroke="#000" stroke-width="0.75"/>
<line x1="210.60" y1="358.30" x2="240.00" y2="358.30" stroke="#000" stroke-width="0.8"/>
<rect x="224.60" y="360.60" width="1.4" height="1.4" fill="none" stroke="#ff2c2c" stroke-width="0.4"/>
<path d="M223.40 349.50L225.30 347.60L227.20 349.50L225.30 351.40Z" fill="#000"/>
<path d="M213.80 358.30L215.70 356.40L217.60 358.30L215.70 360.20Z" fill="#000"/>
<path d="M233.10 356.80L235.00 354.90L236.90 356.80L235.00 358.70Z" fill="#000"/>
<path d="M223.40 369.70L225.30 367.80L227.20 369.70L225.30 371.60Z" fill="#000"/>
<path d="M223.40 388.90L225.30 387.00L227.20 388.90L225.30 390.80Z" fill="#000"/>
<path d="M223.40 408.60L225.30 406.70L227.20 408.60L225.30 410.50Z" fill="#000"/>
<path d="M223.30 296.20L225.30 294.20L227.30 296.20L225.30 298.20Z" fill="#000"/>
<line x1="292.70" y1="239.50" x2="292.70" y2="420.85" stroke="#000" stroke-width="0.85"/>
<line x1="292.25" y1="420.65" x2="383.80" y2="420.65" stroke="#000" stroke-width="0.85"/>
<line x1="292.70" y1="420.40" x2="295.30" y2="420.40" stroke="#000" stroke-width="0.85"/>
<text class="tks" text-anchor="end" transform="translate(289.30 423.20)">0.0</text>
<line x1="292.70" y1="378.65" x2="295.30" y2="378.65" stroke="#000" stroke-width="0.85"/>
<text class="tks" text-anchor="end" transform="translate(289.30 381.45)">0.2</text>
<line x1="292.70" y1="336.90" x2="295.30" y2="336.90" stroke="#000" stroke-width="0.85"/>
<text class="tks" text-anchor="end" transform="translate(289.30 339.70)">0.4</text>
<line x1="292.70" y1="295.15" x2="295.30" y2="295.15" stroke="#000" stroke-width="0.85"/>
<text class="tks" text-anchor="end" transform="translate(289.30 297.95)">0.6</text>
<line x1="292.70" y1="253.40" x2="295.30" y2="253.40" stroke="#000" stroke-width="0.85"/>
<text class="tks" text-anchor="end" transform="translate(289.30 256.20)">0.8</text>
<line x1="292.70" y1="399.52" x2="294.20" y2="399.52" stroke="#000" stroke-width="0.75"/>
<line x1="292.70" y1="357.77" x2="294.20" y2="357.77" stroke="#000" stroke-width="0.75"/>
<line x1="292.70" y1="316.02" x2="294.20" y2="316.02" stroke="#000" stroke-width="0.75"/>
<line x1="292.70" y1="274.27" x2="294.20" y2="274.27" stroke="#000" stroke-width="0.75"/>
<line x1="315.30" y1="420.40" x2="315.30" y2="417.80" stroke="#000" stroke-width="0.75"/>
<line x1="360.70" y1="420.40" x2="360.70" y2="417.80" stroke="#000" stroke-width="0.75"/>
<text class="xl" text-anchor="end" transform="translate(318.90 431.00) rotate(-30)">Ctrl</text>
<text class="xl" text-anchor="end" transform="translate(364.70 431.20) rotate(-30)">BLM</text>
<text class="lt" text-anchor="start" transform="translate(274.80 233.00) scale(0.92 1)">F</text>
<text class="yl" text-anchor="middle" transform="translate(275.80 330.00) rotate(-90) scale(0.995 1)">PCT (%)</text>
<line x1="315.30" y1="265.20" x2="360.70" y2="265.20" stroke="#000" stroke-width="0.75"/>
<line x1="315.30" y1="264.80" x2="315.30" y2="278.40" stroke="#000" stroke-width="0.75"/>
<line x1="360.70" y1="264.80" x2="360.70" y2="311.80" stroke="#000" stroke-width="0.75"/>
<text class="pv" text-anchor="middle" transform="translate(338.00 263.60) scale(1.02 1)">p = 0.043</text>
<line x1="315.30" y1="291.30" x2="315.30" y2="306.20" stroke="#000" stroke-width="0.75"/>
<line x1="307.90" y1="291.30" x2="322.70" y2="291.30" stroke="#000" stroke-width="0.75"/>
<line x1="315.30" y1="338.10" x2="315.30" y2="339.30" stroke="#000" stroke-width="0.75"/>
<line x1="307.90" y1="339.30" x2="322.70" y2="339.30" stroke="#000" stroke-width="0.75"/>
<rect x="300.60" y="306.20" width="29.40" height="31.90" fill="#008000" stroke="#000" stroke-width="0.75"/>
<line x1="300.60" y1="319.10" x2="330.00" y2="319.10" stroke="#000" stroke-width="0.8"/>
<rect x="314.60" y="326.30" width="1.4" height="1.4" fill="none" stroke="#178617" stroke-width="0.4"/>
<path d="M313.40 291.30L315.30 289.40L317.20 291.30L315.30 293.20Z" fill="#000"/>
<path d="M318.30 300.60L320.20 298.70L322.10 300.60L320.20 302.50Z" fill="#000"/>
<path d="M308.70 312.60L310.60 310.70L312.50 312.60L310.60 314.50Z" fill="#000"/>
<path d="M323.20 317.80L325.10 315.90L327.00 317.80L325.10 319.70Z" fill="#000"/>
<path d="M313.40 320.50L315.30 318.60L317.20 320.50L315.30 322.40Z" fill="#000"/>
<path d="M303.80 336.70L305.70 334.80L307.60 336.70L305.70 338.60Z" fill="#000"/>
<path d="M313.40 339.40L315.30 337.50L317.20 339.40L315.30 341.30Z" fill="#000"/>
<path d="M313.30 399.80L315.30 397.80L317.30 399.80L315.30 401.80Z" fill="#000"/>
<line x1="360.70" y1="324.50" x2="360.70" y2="334.80" stroke="#000" stroke-width="0.75"/>
<line x1="353.30" y1="324.50" x2="368.10" y2="324.50" stroke="#000" stroke-width="0.75"/>
<line x1="360.70" y1="404.50" x2="360.70" y2="405.90" stroke="#000" stroke-width="0.75"/>
<line x1="353.30" y1="405.90" x2="368.10" y2="405.90" stroke="#000" stroke-width="0.75"/>
<rect x="346.00" y="334.80" width="29.40" height="69.70" fill="#ff0000" stroke="#000" stroke-width="0.75"/>
<line x1="346.00" y1="367.30" x2="375.40" y2="367.30" stroke="#000" stroke-width="0.8"/>
<path d="M368.70 324.90L370.60 323.00L372.50 324.90L370.60 326.80Z" fill="#000"/>
<path d="M349.30 334.80L351.20 332.90L353.10 334.80L351.20 336.70Z" fill="#000"/>
<path d="M358.70 336.50L360.60 334.60L362.50 336.50L360.60 338.40Z" fill="#000"/>
<path d="M358.70 367.30L360.60 365.40L362.50 367.30L360.60 369.20Z" fill="#000"/>
<path d="M358.70 397.80L360.60 395.90L362.50 397.80L360.60 399.70Z" fill="#000"/>
<path d="M354.00 405.80L355.90 403.90L357.80 405.80L355.90 407.70Z" fill="#000"/>
<path d="M363.80 404.30L365.70 402.40L367.60 404.30L365.70 406.20Z" fill="#000"/>
<line x1="454.70" y1="239.50" x2="454.70" y2="420.85" stroke="#000" stroke-width="0.85"/>
<line x1="454.25" y1="420.65" x2="546.00" y2="420.65" stroke="#000" stroke-width="0.85"/>
<line x1="454.70" y1="409.00" x2="457.30" y2="409.00" stroke="#000" stroke-width="0.85"/>
<text class="tk" text-anchor="end" transform="translate(451.40 411.80)">50</text>
<line x1="454.70" y1="385.43" x2="457.30" y2="385.43" stroke="#000" stroke-width="0.85"/>
<text class="tk" text-anchor="end" transform="translate(451.40 388.23)">100</text>
<line x1="454.70" y1="361.86" x2="457.30" y2="361.86" stroke="#000" stroke-width="0.85"/>
<text class="tk" text-anchor="end" transform="translate(451.40 364.66)">150</text>
<line x1="454.70" y1="338.29" x2="457.30" y2="338.29" stroke="#000" stroke-width="0.85"/>
<text class="tk" text-anchor="end" transform="translate(451.40 341.09)">200</text>
<line x1="454.70" y1="314.72" x2="457.30" y2="314.72" stroke="#000" stroke-width="0.85"/>
<text class="tk" text-anchor="end" transform="translate(451.40 317.52)">250</text>
<line x1="454.70" y1="291.15" x2="457.30" y2="291.15" stroke="#000" stroke-width="0.85"/>
<text class="tk" text-anchor="end" transform="translate(451.40 293.95)">300</text>
<line x1="454.70" y1="267.58" x2="457.30" y2="267.58" stroke="#000" stroke-width="0.85"/>
<text class="tk" text-anchor="end" transform="translate(451.40 270.38)">350</text>
<line x1="454.70" y1="244.01" x2="457.30" y2="244.01" stroke="#000" stroke-width="0.85"/>
<text class="tk" text-anchor="end" transform="translate(451.40 246.81)">400</text>
<line x1="454.70" y1="397.21" x2="456.20" y2="397.21" stroke="#000" stroke-width="0.75"/>
<line x1="454.70" y1="373.64" x2="456.20" y2="373.64" stroke="#000" stroke-width="0.75"/>
<line x1="454.70" y1="350.07" x2="456.20" y2="350.07" stroke="#000" stroke-width="0.75"/>
<line x1="454.70" y1="326.50" x2="456.20" y2="326.50" stroke="#000" stroke-width="0.75"/>
<line x1="454.70" y1="302.94" x2="456.20" y2="302.94" stroke="#000" stroke-width="0.75"/>
<line x1="454.70" y1="279.37" x2="456.20" y2="279.37" stroke="#000" stroke-width="0.75"/>
<line x1="454.70" y1="255.80" x2="456.20" y2="255.80" stroke="#000" stroke-width="0.75"/>
<line x1="477.40" y1="420.40" x2="477.40" y2="417.80" stroke="#000" stroke-width="0.75"/>
<line x1="523.10" y1="420.40" x2="523.10" y2="417.80" stroke="#000" stroke-width="0.75"/>
<text class="xl" text-anchor="end" transform="translate(481.00 431.00) rotate(-30)">Ctrl</text>
<text class="xl" text-anchor="end" transform="translate(527.10 431.20) rotate(-30)">BLM</text>
<text class="lt" text-anchor="start" transform="translate(438.00 233.00) scale(0.92 1)">I</text>
<text class="yl" text-anchor="middle" transform="translate(435.60 330.00) rotate(-90) scale(0.995 1)">IL-10 (pg/ml)</text>
<line x1="477.40" y1="265.20" x2="523.10" y2="265.20" stroke="#000" stroke-width="0.75"/>
<line x1="477.40" y1="264.80" x2="477.40" y2="278.40" stroke="#000" stroke-width="0.75"/>
<line x1="523.10" y1="264.80" x2="523.10" y2="341.70" stroke="#000" stroke-width="0.75"/>
<text class="pv" text-anchor="middle" transform="translate(500.25 263.60) scale(1.02 1)">p = 0.019</text>
<line x1="477.40" y1="360.80" x2="477.40" y2="369.90" stroke="#000" stroke-width="0.75"/>
<line x1="470.00" y1="369.90" x2="484.80" y2="369.90" stroke="#000" stroke-width="0.75"/>
<rect x="462.70" y="338.50" width="29.40" height="22.30" fill="#008000" stroke="#000" stroke-width="0.75"/>
<line x1="462.70" y1="348.30" x2="492.10" y2="348.30" stroke="#000" stroke-width="0.8"/>
<rect x="476.70" y="342.30" width="1.4" height="1.4" fill="none" stroke="#178617" stroke-width="0.4"/>
<path d="M464.40 338.50L466.30 336.60L468.20 338.50L466.30 340.40Z" fill="#000"/>
<path d="M471.70 345.40L473.60 343.50L475.50 345.40L473.60 347.30Z" fill="#000"/>
<path d="M478.90 352.40L480.80 350.50L482.70 352.40L480.80 354.30Z" fill="#000"/>
<path d="M486.20 361.00L488.10 359.10L490.00 361.00L488.10 362.90Z" fill="#000"/>
<path d="M475.30 369.90L477.20 368.00L479.10 369.90L477.20 371.80Z" fill="#000"/>
<path d="M475.20 291.30L477.20 289.30L479.20 291.30L477.20 293.30Z" fill="#000"/>
<line x1="523.10" y1="354.80" x2="523.10" y2="361.90" stroke="#000" stroke-width="0.75"/>
<line x1="515.70" y1="354.80" x2="530.50" y2="354.80" stroke="#000" stroke-width="0.75"/>
<line x1="523.10" y1="394.90" x2="523.10" y2="409.00" stroke="#000" stroke-width="0.75"/>
<line x1="515.70" y1="409.00" x2="530.50" y2="409.00" stroke="#000" stroke-width="0.75"/>
<rect x="508.40" y="361.90" width="29.40" height="33.00" fill="#ff0000" stroke="#000" stroke-width="0.75"/>
<line x1="508.40" y1="386.70" x2="537.80" y2="386.70" stroke="#000" stroke-width="0.8"/>
<rect x="522.40" y="381.90" width="1.4" height="1.4" fill="none" stroke="#ff2c2c" stroke-width="0.4"/>
<path d="M525.90 354.80L527.80 352.90L529.70 354.80L527.80 356.70Z" fill="#000"/>
<path d="M516.30 361.90L518.20 360.00L520.10 361.90L518.20 363.80Z" fill="#000"/>
<path d="M511.40 382.20L513.30 380.30L515.20 382.20L513.30 384.10Z" fill="#000"/>
<path d="M530.80 391.80L532.70 389.90L534.60 391.80L532.70 393.70Z" fill="#000"/>
<path d="M521.00 394.90L522.90 393.00L524.80 394.90L522.90 396.80Z" fill="#000"/>
<path d="M521.00 409.00L522.90 407.10L524.80 409.00L522.90 410.90Z" fill="#000"/>
<line x1="592.50" y1="239.50" x2="592.50" y2="420.85" stroke="#000" stroke-width="0.85"/>
<line x1="592.05" y1="420.65" x2="683.80" y2="420.65" stroke="#000" stroke-width="0.85"/>
<line x1="592.50" y1="408.50" x2="595.10" y2="408.50" stroke="#000" stroke-width="0.85"/>
<text class="tk" text-anchor="end" transform="translate(589.20 411.30)">200</text>
<line x1="592.50" y1="383.57" x2="595.10" y2="383.57" stroke="#000" stroke-width="0.85"/>
<text class="tk" text-anchor="end" transform="translate(589.20 386.37)">300</text>
<line x1="592.50" y1="358.64" x2="595.10" y2="358.64" stroke="#000" stroke-width="0.85"/>
<text class="tk" text-anchor="end" transform="translate(589.20 361.44)">400</text>
<line x1="592.50" y1="333.71" x2="595.10" y2="333.71" stroke="#000" stroke-width="0.85"/>
<text class="tk" text-anchor="end" transform="translate(589.20 336.51)">500</text>
<line x1="592.50" y1="308.78" x2="595.10" y2="308.78" stroke="#000" stroke-width="0.85"/>
<text class="tk" text-anchor="end" transform="translate(589.20 311.58)">600</text>
<line x1="592.50" y1="283.85" x2="595.10" y2="283.85" stroke="#000" stroke-width="0.85"/>
<text class="tk" text-anchor="end" transform="translate(589.20 286.65)">700</text>
<line x1="592.50" y1="258.92" x2="595.10" y2="258.92" stroke="#000" stroke-width="0.85"/>
<text class="tk" text-anchor="end" transform="translate(589.20 261.72)">800</text>
<line x1="592.50" y1="396.04" x2="594.00" y2="396.04" stroke="#000" stroke-width="0.75"/>
<line x1="592.50" y1="371.11" x2="594.00" y2="371.11" stroke="#000" stroke-width="0.75"/>
<line x1="592.50" y1="346.18" x2="594.00" y2="346.18" stroke="#000" stroke-width="0.75"/>
<line x1="592.50" y1="321.25" x2="594.00" y2="321.25" stroke="#000" stroke-width="0.75"/>
<line x1="592.50" y1="296.31" x2="594.00" y2="296.31" stroke="#000" stroke-width="0.75"/>
<line x1="592.50" y1="271.38" x2="594.00" y2="271.38" stroke="#000" stroke-width="0.75"/>
<line x1="592.50" y1="246.46" x2="594.00" y2="246.46" stroke="#000" stroke-width="0.75"/>
<line x1="615.20" y1="420.40" x2="615.20" y2="417.80" stroke="#000" stroke-width="0.75"/>
<line x1="660.90" y1="420.40" x2="660.90" y2="417.80" stroke="#000" stroke-width="0.75"/>
<text class="xl" text-anchor="end" transform="translate(618.80 431.00) rotate(-30)">Ctrl</text>
<text class="xl" text-anchor="end" transform="translate(664.90 431.20) rotate(-30)">BLM</text>
<text class="lt" text-anchor="start" transform="translate(573.50 233.00) scale(0.92 1)">J</text>
<text class="yl" text-anchor="middle" transform="translate(573.90 330.00) rotate(-90) scale(0.995 1)">IFN-g (pg/ml)</text>
<line x1="615.20" y1="265.20" x2="660.90" y2="265.20" stroke="#000" stroke-width="0.75"/>
<line x1="615.20" y1="264.80" x2="615.20" y2="278.40" stroke="#000" stroke-width="0.75"/>
<line x1="660.90" y1="264.80" x2="660.90" y2="348.40" stroke="#000" stroke-width="0.75"/>
<text class="pv" text-anchor="middle" transform="translate(638.05 263.60) scale(1.02 1)">p &lt; 0.01</text>
<line x1="615.20" y1="291.30" x2="615.20" y2="307.10" stroke="#000" stroke-width="0.75"/>
<line x1="607.80" y1="291.30" x2="622.60" y2="291.30" stroke="#000" stroke-width="0.75"/>
<line x1="615.20" y1="361.70" x2="615.20" y2="373.30" stroke="#000" stroke-width="0.75"/>
<line x1="607.80" y1="373.30" x2="622.60" y2="373.30" stroke="#000" stroke-width="0.75"/>
<rect x="600.50" y="307.10" width="29.40" height="54.60" fill="#008000" stroke="#000" stroke-width="0.75"/>
<line x1="600.50" y1="321.30" x2="629.90" y2="321.30" stroke="#000" stroke-width="0.8"/>
<rect x="614.50" y="328.30" width="1.4" height="1.4" fill="none" stroke="#178617" stroke-width="0.4"/>
<path d="M613.30 291.30L615.20 289.40L617.10 291.30L615.20 293.20Z" fill="#000"/>
<path d="M603.50 307.10L605.40 305.20L607.30 307.10L605.40 309.00Z" fill="#000"/>
<path d="M622.90 308.60L624.80 306.70L626.70 308.60L624.80 310.50Z" fill="#000"/>
<path d="M613.30 333.60L615.20 331.70L617.10 333.60L615.20 335.50Z" fill="#000"/>
<path d="M618.00 361.70L619.90 359.80L621.80 361.70L619.90 363.60Z" fill="#000"/>
<path d="M608.40 373.30L610.30 371.40L612.20 373.30L610.30 375.20Z" fill="#000"/>
<rect x="646.20" y="378.20" width="29.40" height="7.80" fill="#ff0000" stroke="#000" stroke-width="0.75"/>
<line x1="646.20" y1="382.20" x2="675.60" y2="382.20" stroke="#000" stroke-width="0.8"/>
<path d="M649.20 379.70L651.10 377.80L653.00 379.70L651.10 381.60Z" fill="#000"/>
<path d="M659.00 378.20L660.90 376.30L662.80 378.20L660.90 380.10Z" fill="#000"/>
<path d="M654.10 386.20L656.00 384.30L657.90 386.20L656.00 388.10Z" fill="#000"/>
<path d="M663.70 386.20L665.60 384.30L667.50 386.20L665.60 388.10Z" fill="#000"/>
<path d="M658.90 361.90L660.90 359.90L662.90 361.90L660.90 363.90Z" fill="#000"/>
<path d="M658.90 412.50L660.90 410.50L662.90 412.50L660.90 414.50Z" fill="#000"/>
</svg>
</body></html>
